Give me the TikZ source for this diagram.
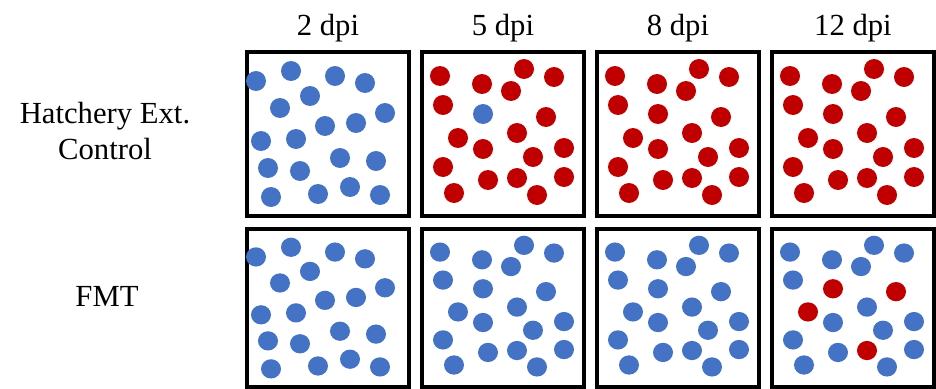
\documentclass[tikz,border=0pt]{standalone}
\usepackage{fontspec}
\setmainfont{Liberation Serif}
\usepackage{tikz}

\definecolor{dotblue}{RGB}{68,114,196}
\definecolor{dotred}{RGB}{192,0,0}

% dot layouts, measured from the north west corner of a panel
\newcommand{\dotsA}{11/31, 46/21, 90/26, 120/33, 65/46, 35/58, 140/63, 80/76, 111/73, 16/91,
  51/89, 95/108, 131/111, 23/118, 55/121, 26/147, 73/144, 105/137, 135/145}
\newcommand{\dotsB}{20/26, 62/34, 104/19, 134/27, 91/41, 23/55, 63/64, 126/67, 38/88, 97/83,
  63/99, 144/98, 113/107, 23/117, 68/130, 97/128, 144/127, 34/143, 117/145}

\begin{document}
\begin{tikzpicture}[
    x=0.75pt, y=-0.75pt,
    panel/.style={rectangle, draw=black, line width=3pt, minimum width=121.5pt, minimum height=123pt, inner sep=0pt},
    fmtpanel/.style={panel, minimum height=118.5pt},
    head/.style={anchor=base, font=\fontsize{23}{27}\selectfont},
    rowlabel/.style={align=center, font=\fontsize{23}{27}\selectfont},
    bluedot/.style={fill=dotblue},
    reddot/.style={fill=dotred}
]
\useasboundingbox (0,0) rectangle (936,389);

% Panels
\node[panel]    (c2)  at (328, 134) {};
\node[panel]    (c5)  at (503, 134) {};
\node[panel]    (c8)  at (678, 134) {};
\node[panel]    (c12) at (853, 134) {};
\node[fmtpanel] (f2)  at (328, 308) {};
\node[fmtpanel] (f5)  at (503, 308) {};
\node[fmtpanel] (f8)  at (678, 308) {};
\node[fmtpanel] (f12) at (853, 308) {};

% Column and row labels
\node[head] (t2)  at (328, 36) {2 dpi};
\node[head] (t5)  at (503, 36) {5 dpi};
\node[head] (t8)  at (678, 36) {8 dpi};
\node[head] (t12) at (853, 36) {12 dpi};
\node[rowlabel] (ctrl) at (105, 131) {Hatchery Ext.\\Control};
\node[rowlabel] (fmt)  at (107, 296) {FMT};

% Hatchery Ext. Control
\begin{scope}[shift={(c2.north west)}]
  \foreach \x/\y in \dotsA {\fill[bluedot] (\x,\y) circle (7.5pt);}
\end{scope}
\begin{scope}[shift={(c5.north west)}]
  \foreach \x/\y [count=\k] in \dotsB {
    \ifnum\k=7 \def\dc{bluedot}\else\def\dc{reddot}\fi
    \fill[\dc] (\x,\y) circle (7.5pt);
  }
\end{scope}
\begin{scope}[shift={(c8.north west)}]
  \foreach \x/\y in \dotsB {\fill[reddot] (\x,\y) circle (7.5pt);}
\end{scope}
\begin{scope}[shift={(c12.north west)}]
  \foreach \x/\y in \dotsB {\fill[reddot] (\x,\y) circle (7.5pt);}
\end{scope}

% FMT
\begin{scope}[shift={(f2.north west)}, yscale=0.965]
  \foreach \x/\y in \dotsA {\fill[bluedot] (\x,\y) circle (7.5pt);}
\end{scope}
\begin{scope}[shift={(f5.north west)}, yscale=0.965]
  \foreach \x/\y in \dotsB {\fill[bluedot] (\x,\y) circle (7.5pt);}
\end{scope}
\begin{scope}[shift={(f8.north west)}, yscale=0.965]
  \foreach \x/\y in \dotsB {\fill[bluedot] (\x,\y) circle (7.5pt);}
\end{scope}
\begin{scope}[shift={(f12.north west)}, yscale=0.965]
  \foreach \x/\y [count=\k] in \dotsB {
    \pgfmathtruncatemacro\isred{(\k==7)||(\k==8)||(\k==9)||(\k==16)}
    \ifnum\isred=1 \def\dc{reddot}\else\def\dc{bluedot}\fi
    \fill[\dc] (\x,\y) circle (7.5pt);
  }
\end{scope}

\end{tikzpicture}
\end{document}
